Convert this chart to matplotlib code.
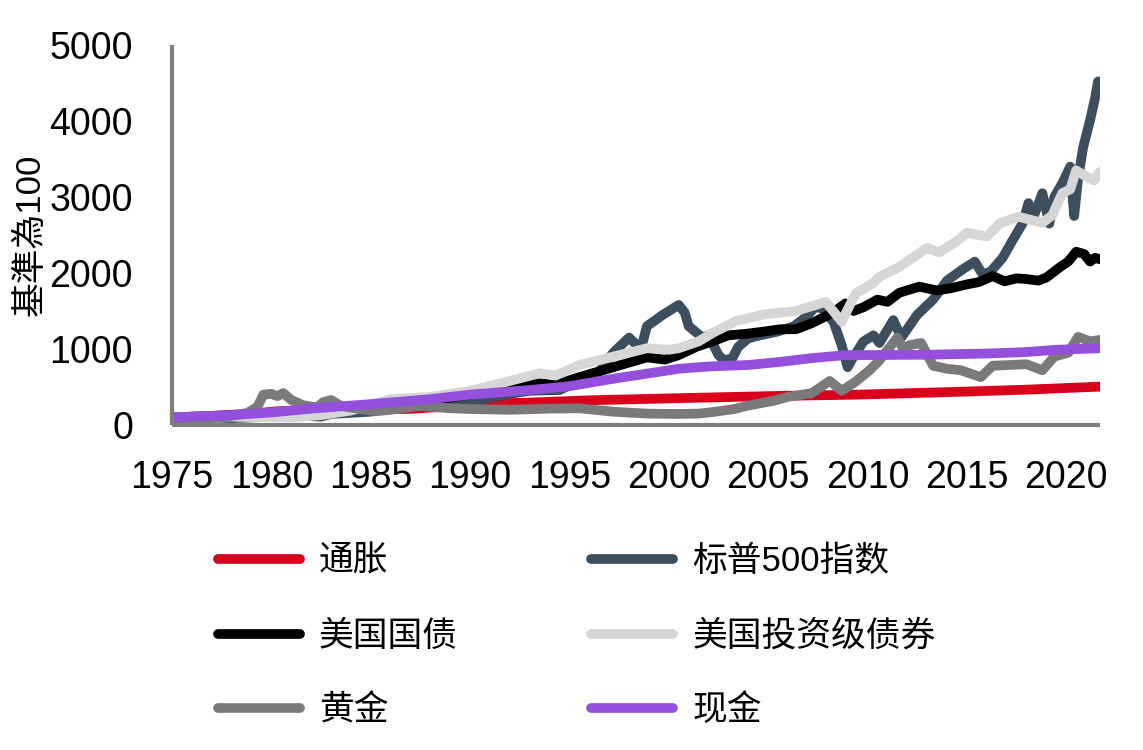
import matplotlib.pyplot as plt
import matplotlib.ticker as mticker

plt.rcParams['font.family'] = ['Liberation Sans', 'Noto Sans CJK SC', 'DejaVu Sans']

# series values (index, base 100)
cpi_x = [1975, 1977, 1979, 1980.3, 1982, 1985, 1987, 1991.4, 1993, 1996, 2000, 2005, 2009.6, 2015, 2018, 2021.7]
cpi_y = [100, 120, 150, 180, 200, 205, 212, 285, 295, 325, 350, 380, 400, 440, 465, 505]

spx_x = [1975, 1976, 1977, 1978, 1979, 1980, 1980.9, 1982.5, 1983, 1984, 1985, 1986, 1987.6, 1988,
         1989.5, 1990.5, 1991.5, 1993, 1994.5, 1995.5, 1996.5, 1997.2, 1998.0, 1998.6, 1998.9, 1999.7,
         2000.5, 2000.8, 2001.0, 2001.7, 2002.0, 2002.5, 2002.8, 2003.2, 2003.5, 2004.0, 2004.6, 2005.5,
         2006.3, 2006.9, 2007.4, 2007.8, 2008.3, 2008.7, 2009.0, 2009.3, 2009.8, 2010.3, 2010.6, 2011.3,
         2011.7, 2012.5, 2013.3, 2014.0, 2014.8, 2015.4, 2015.8, 2016.2, 2016.8, 2017.3, 2017.8, 2018.1,
         2018.3, 2018.8, 2019.15, 2019.4, 2019.8, 2020.2, 2020.4, 2020.6, 2020.85, 2021.2, 2021.45, 2021.6]
spx_y = [75, 95, 100, 90, 100, 110, 130, 110, 145, 160, 175, 225, 310, 260,
         340, 330, 390, 450, 460, 580, 700, 950, 1150, 1000, 1300, 1450,
         1580, 1480, 1300, 1150, 1180, 920, 850, 880, 1030, 1140, 1180, 1230,
         1300, 1420, 1560, 1520, 1350, 1050, 760, 900, 1100, 1180, 1080, 1380,
         1150, 1450, 1650, 1900, 2050, 2150, 1980, 2020, 2200, 2430, 2650, 2920,
         2700, 3050, 2650, 3000, 3180, 3400, 2750, 3250, 3650, 4010, 4300, 4520]

tsy_x = [1975, 1978, 1980, 1982, 1984, 1986, 1988, 1990, 1991.5, 1993, 1994.3, 1995.5, 1997.2, 1998.9,
         1999.8, 2000.5, 2001.4, 2002.2, 2003.0, 2003.9, 2004.8, 2005.6, 2006.4, 2007.2, 2008.2, 2008.9,
         2009.3, 2009.8, 2010.5, 2011.0, 2011.6, 2012.6, 2013.5, 2014.2, 2015.0, 2015.6, 2016.3, 2016.9,
         2017.5, 2018.0, 2018.6, 2019.0, 2019.7, 2020.1, 2020.5, 2020.9, 2021.2, 2021.45, 2021.7]
tsy_y = [100, 125, 145, 180, 230, 300, 320, 400, 470, 560, 530, 630, 760, 890,
         860, 920, 1030, 1100, 1180, 1200, 1230, 1260, 1260, 1340, 1470, 1600,
         1500, 1550, 1650, 1620, 1740, 1820, 1770, 1800, 1850, 1880, 1960, 1890,
         1930, 1920, 1900, 1940, 2080, 2150, 2280, 2250, 2150, 2200, 2180]

ig_x = [1975, 1977, 1979, 1981, 1982.5, 1984, 1986, 1988, 1990, 1991.7, 1993.5, 1994.3, 1995.5, 1997.2,
        1998.9, 2000.0, 2000.5, 2001.5, 2002.2, 2003.4, 2004.9, 2006.4, 2007.9, 2008.7, 2009.4, 2010.3,
        2010.6, 2011.6, 2013.0, 2013.6, 2014.5, 2015.0, 2016.0, 2016.7, 2017.6, 2018.8, 2019.3, 2019.8,
        2020.2, 2020.5, 2021.0, 2021.4, 2021.7]
ig_y = [100, 115, 105, 100, 130, 190, 340, 370, 450, 560, 680, 650, 790, 900,
        1010, 990, 1010, 1100, 1210, 1370, 1460, 1500, 1620, 1360, 1730, 1870,
        1950, 2080, 2330, 2270, 2420, 2530, 2480, 2660, 2740, 2660, 2760, 3050,
        3100, 3350, 3270, 3220, 3330]

gold_x = [1975, 1976, 1977, 1978, 1978.8, 1979.3, 1979.6, 1980.0, 1980.3, 1980.6, 1981.0, 1981.6, 1982.3,
          1982.6, 1983.0, 1983.5, 1984.5, 1985.2, 1986, 1987.5, 1989, 1990, 1992, 1994, 1995.5, 1997.2,
          1998.9, 2000.5, 2001.5, 2002.2, 2003.3, 2003.9, 2005.3, 2006.0, 2007.2, 2008.1, 2008.7, 2009.4,
          2010.1, 2010.6, 2011.5, 2011.8, 2012.1, 2012.7, 2013.3, 2014.0, 2014.7, 2015.7, 2016.3, 2017.2,
          2018.0, 2018.8, 2019.4, 2020.1, 2020.6, 2021.2, 2021.7]
gold_y = [100, 80, 90, 120, 160, 240, 400, 410, 380, 420, 330, 260, 230,
          300, 330, 250, 210, 180, 200, 250, 220, 210, 200, 215, 220, 175,
          150, 145, 150, 170, 210, 250, 320, 370, 420, 580, 450, 570,
          720, 850, 1150, 1000, 1050, 1080, 780, 740, 720, 630, 780, 790,
          800, 720, 900, 950, 1160, 1100, 1120]

cash_x = [1975, 1978, 1980, 1982, 1985, 1988, 1990, 1993, 1995, 1997, 1999, 2000.5, 2002, 2004, 2005.6,
          2007.2, 2008.9, 2010, 2013, 2016, 2018, 2019.5, 2021.7]
cash_y = [100, 130, 165, 215, 275, 340, 400, 460, 510, 600, 680, 740, 770, 790, 830,
          880, 920, 920, 925, 940, 960, 990, 1010]

series = [
    ('通胀', cpi_x, cpi_y, '#d9001b'),
    ('标普500指数', spx_x, spx_y, '#3d4f5e'),
    ('美国国债', tsy_x, tsy_y, '#000000'),
    ('美国投资级债券', ig_x, ig_y, '#d6d6d6'),
    ('黄金', gold_x, gold_y, '#7a7a7a'),
    ('现金', cash_x, cash_y, '#944fdc'),
]

fig = plt.figure(figsize=(11.43, 7.5), dpi=100)
ax = fig.add_axes([172 / 1143, 1 - 425 / 750, 928 / 1143, 380 / 750])

lines = []
for name, xs, ys, col in series:
    ln, = ax.plot(xs, ys, color=col, lw=7, label=name, solid_capstyle='round', solid_joinstyle='round')
    lines.append(ln)

ax.set_xlim(1975, 2021.7)
ax.set_ylim(0, 5000)
ax.xaxis.set_major_locator(mticker.MultipleLocator(5))
ax.yaxis.set_major_locator(mticker.MultipleLocator(1000))
ax.tick_params(length=0, labelsize=27, pad=25)
ax.tick_params(axis='y', pad=28)

for s in ['top', 'right']:
    ax.spines[s].set_visible(False)
for s in ['left', 'bottom']:
    ax.spines[s].set_color('#7f7f7f')
    ax.spines[s].set_linewidth(3)
    ax.spines[s].set_capstyle('butt')

ax.set_ylabel('基準為100', fontsize=25)
ax.yaxis.set_label_coords(-0.135, 0.5)

# legend is filled row by row in the reference, matplotlib fills columns
order = [0, 2, 4, 1, 3, 5]
leg = fig.legend([lines[i] for i in order], [series[i][0] for i in order],
                 loc='upper left', bbox_to_anchor=(218 / 1143, 1 - 545 / 750), ncol=2,
                 frameon=False, fontsize=25, handlelength=2.35, handletextpad=0.55,
                 columnspacing=3.85, labelspacing=1.2, borderpad=0, borderaxespad=0)
for h in leg.get_lines():
    h.set_linewidth(7)
    h.set_solid_capstyle('round')

fig.savefig('out.png', dpi=100)
